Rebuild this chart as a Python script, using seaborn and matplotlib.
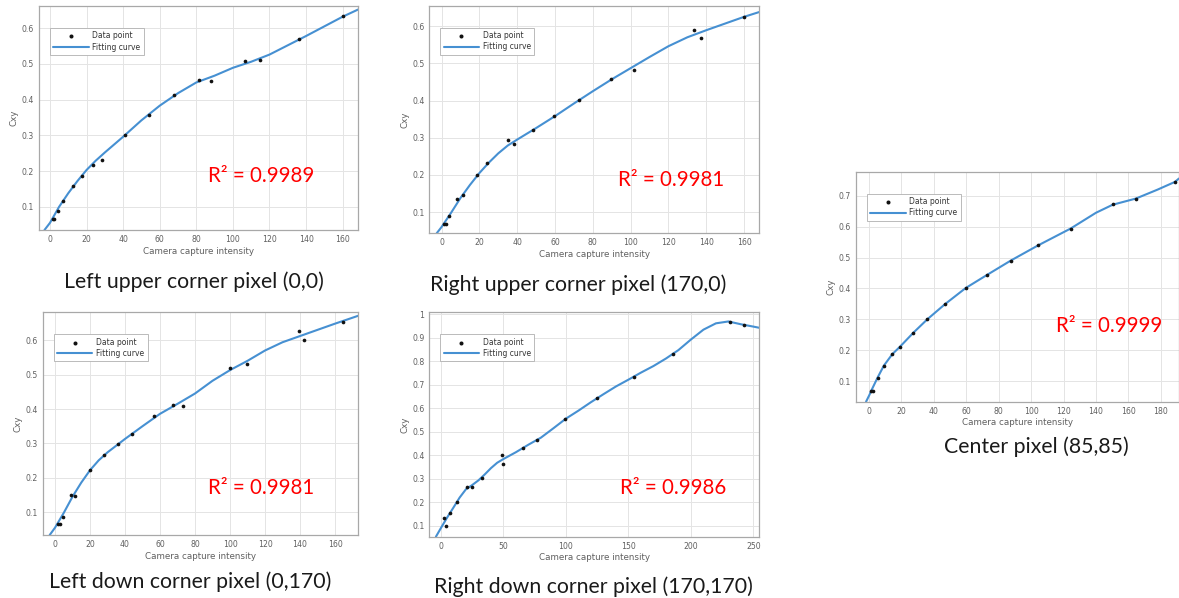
import numpy as np
import pandas as pd
import matplotlib
matplotlib.use("Agg")
import matplotlib.pyplot as plt
from matplotlib.ticker import FuncFormatter
import seaborn as sns

# ---------------- data ----------------
# Panel 1: Left upper corner pixel (0,0)
p1_x = [1.8, 2.4, 4.6, 7.3, 12.8, 17.3, 23.3, 28.2, 41.0, 54.1, 67.8, 81.6, 87.8, 106.8, 114.6, 136.1, 160.0]
p1_y = [0.065, 0.065, 0.088, 0.116, 0.158, 0.187, 0.218, 0.232, 0.302, 0.358, 0.412, 0.454, 0.451, 0.509, 0.511, 0.571, 0.633]
p1_cx = [-3, 0, 5, 10, 15, 20, 25, 30, 40, 50, 60, 70, 80, 90, 100, 110, 120, 130, 140, 150, 160, 168.4]
p1_cy = [0.035, 0.055, 0.100, 0.138, 0.172, 0.203, 0.229, 0.252, 0.296, 0.342, 0.383, 0.418, 0.448, 0.467, 0.489, 0.506, 0.526, 0.552, 0.578, 0.605, 0.632, 0.652]

# Panel 2: Right upper corner pixel (170,0)
p2_x = [1.4, 2.3, 4.1, 8.3, 11.1, 18.5, 24.2, 35.3, 38.5, 48.5, 59.6, 72.7, 89.4, 101.8, 133.5, 137.0, 160.0]
p2_y = [0.067, 0.067, 0.089, 0.134, 0.147, 0.201, 0.231, 0.293, 0.282, 0.320, 0.358, 0.401, 0.457, 0.482, 0.591, 0.567, 0.624]
p2_cx = [-2.6, 0, 5, 10, 15, 20, 25, 30, 35, 40, 50, 60, 70, 80, 90, 100, 110, 120, 130, 140, 150, 160, 168.1]
p2_cy = [0.043, 0.060, 0.098, 0.138, 0.173, 0.205, 0.233, 0.258, 0.279, 0.295, 0.326, 0.358, 0.392, 0.425, 0.457, 0.487, 0.517, 0.546, 0.570, 0.589, 0.607, 0.625, 0.638]

# Panel 3: Left down corner pixel (0,170)
p3_x = [1.9, 2.9, 4.8, 9.0, 11.4, 20.0, 28.0, 36.2, 43.8, 56.6, 67.6, 73.3, 100.0, 109.5, 139.4, 142.3, 164.8]
p3_y = [0.066, 0.066, 0.087, 0.150, 0.147, 0.223, 0.267, 0.299, 0.327, 0.380, 0.412, 0.409, 0.518, 0.530, 0.627, 0.600, 0.654]
p3_cx = [-3, 0, 5, 10, 15, 20, 25, 30, 40, 50, 60, 70, 80, 90, 100, 110, 120, 130, 140, 150, 160, 173.3]
p3_cy = [0.034, 0.055, 0.098, 0.145, 0.186, 0.222, 0.251, 0.274, 0.313, 0.350, 0.386, 0.415, 0.445, 0.482, 0.513, 0.540, 0.570, 0.594, 0.612, 0.630, 0.648, 0.671]

# Panel 4: Right down corner pixel (170,170)
p4_x = [2.4, 3.7, 7.2, 12.5, 20.5, 24.5, 32.5, 48.5, 49.3, 65.3, 77.1, 99.2, 125.1, 154.4, 185.9, 231.2, 242.4]
p4_y = [0.131, 0.098, 0.156, 0.202, 0.263, 0.266, 0.305, 0.401, 0.362, 0.433, 0.467, 0.553, 0.642, 0.734, 0.830, 0.969, 0.955]
p4_cx = [-4, 0, 5, 10, 15, 20, 25, 30, 35, 40, 45, 50, 60, 70, 80, 90, 100, 110, 120, 130, 140, 150,
         160, 170, 180, 190, 200, 210, 220, 230, 240, 250, 254.7]
p4_cy = [0.053, 0.090, 0.135, 0.177, 0.220, 0.255, 0.273, 0.293, 0.318, 0.345, 0.368, 0.384, 0.413, 0.445, 0.475,
         0.515, 0.556, 0.590, 0.626, 0.660, 0.693, 0.722, 0.752, 0.780, 0.812, 0.848, 0.893, 0.935, 0.962,
         0.970, 0.958, 0.948, 0.943]

# Panel 5: Center pixel (85,85)
p5_x = [1.0, 2.3, 5.3, 9.2, 14.4, 19.1, 27.3, 36.0, 46.9, 59.6, 72.6, 87.4, 104.2, 124.4, 150.3, 164.6, 188.7]
p5_y = [0.068, 0.068, 0.111, 0.150, 0.187, 0.211, 0.256, 0.300, 0.349, 0.401, 0.443, 0.490, 0.539, 0.594, 0.672, 0.691, 0.745]
p5_cx = [-1.8, 0, 2, 5.3, 9.2, 14.4, 19.1, 27.3, 36, 46.9, 59.6, 72.6, 87.4, 104.2, 124.4, 140, 150.3, 164.6, 178, 188.7, 191.2]
p5_cy = [0.033, 0.052, 0.075, 0.111, 0.150, 0.187, 0.211, 0.256, 0.300, 0.349, 0.401, 0.443, 0.490, 0.539, 0.594, 0.645, 0.671, 0.691, 0.720, 0.745, 0.756]

captions = ["Left upper corner pixel (0,0)", "Right upper corner pixel (170,0)",
            "Left down corner pixel (0,170)", "Right down corner pixel (170,170)",
            "Center pixel (85,85)"]
r2_labels = ["R\u00b2 = 0.9989", "R\u00b2 = 0.9981", "R\u00b2 = 0.9981", "R\u00b2 = 0.9986", "R\u00b2 = 0.9999"]
x_tick_lists = [list(range(0, 161, 20)), list(range(0, 161, 20)), list(range(0, 161, 20)),
                list(range(0, 251, 50)), list(range(0, 181, 20))]
y_tick_lists = [[0.1, 0.2, 0.3, 0.4, 0.5, 0.6], [0.1, 0.2, 0.3, 0.4, 0.5, 0.6],
                [0.1, 0.2, 0.3, 0.4, 0.5, 0.6],
                [0.1, 0.2, 0.3, 0.4, 0.5, 0.6, 0.7, 0.8, 0.9, 1.0],
                [0.1, 0.2, 0.3, 0.4, 0.5, 0.6, 0.7]]

# ---------------- layout (pixels) ----------------
W, H = 1179, 598
boxes = [(39, 358, 6, 230), (429.3, 759.3, 5.7, 233.3), (42.7, 358.3, 312.3, 535),
         (429.3, 759.3, 312.3, 536.7), (856, 1179, 171.7, 401.7)]
xlims = [(-6, 168.4), (-6.5, 168.1), (-7, 173.3), (-9.3, 254.7), (-8, 191.2)]
ylims = [(0.035, 0.662), (0.043, 0.655), (0.034, 0.681), (0.053, 1.009), (0.033, 0.778)]
cap_pos = [(194, 282), (578, 285), (190, 582), (593, 587), (1036, 447)]
r2_pos = [(261, 176), (671, 180), (261, 488), (673, 488), (1109, 326)]

sns.set_theme(style="whitegrid")
plt.rcParams['font.family'] = ['DejaVu Sans']

fig = plt.figure(figsize=(W / 100, H / 100), dpi=100)
fig.patch.set_facecolor("white")

panels = [(p1_x, p1_y, p1_cx, p1_cy), (p2_x, p2_y, p2_cx, p2_cy), (p3_x, p3_y, p3_cx, p3_cy),
          (p4_x, p4_y, p4_cx, p4_cy), (p5_x, p5_y, p5_cx, p5_cy)]

line_color = "#4690d2"
tick_color = "#606060"
fmt = FuncFormatter(lambda v, p: f"{v:g}")

for i, (dx, dy, cx, cy) in enumerate(panels):
    l, r, t, b = boxes[i]
    ax = fig.add_axes([l / W, 1 - b / H, (r - l) / W, (b - t) / H])
    ax.set_facecolor("white")
    pts = pd.DataFrame({"x": dx, "y": dy})
    crv = pd.DataFrame({"x": cx, "y": cy})
    sns.scatterplot(data=pts, x="x", y="y", ax=ax, color="#111111", s=7, linewidth=0,
                    label="Data point", zorder=3)
    sns.lineplot(data=crv, x="x", y="y", ax=ax, color=line_color, linewidth=1.5,
                 estimator=None, sort=False, label="Fitting curve", zorder=2,
                 solid_joinstyle="round", solid_capstyle="round")
    ax.set_xlim(*xlims[i])
    ax.set_ylim(*ylims[i])
    ax.set_xticks(x_tick_lists[i])
    ax.set_yticks(y_tick_lists[i])
    ax.xaxis.set_major_formatter(fmt)
    ax.yaxis.set_major_formatter(fmt)
    ax.grid(True, color="#e4e4e4", linewidth=0.7)
    for s in ax.spines.values():
        s.set_visible(True)
        s.set_color("#a8a8a8")
        s.set_linewidth(0.9)
    ax.tick_params(axis="both", direction="in", length=2, width=0.6, color="#a8a8a8",
                   labelsize=5.6, labelcolor=tick_color, pad=3.5)
    ax.set_xlabel("Camera capture intensity", fontsize=6.3, color=tick_color, labelpad=2)
    ax.set_ylabel("Cxy", fontsize=6.3, color=tick_color, labelpad=2)
    aw, ah = r - l, b - t
    leg = ax.legend(loc="upper left", bbox_to_anchor=(11 / aw, 1 - 22 / ah), borderaxespad=0,
                    fontsize=5.5, frameon=True, fancybox=False, framealpha=1,
                    edgecolor="#b0b0b0", handlelength=4.6, handletextpad=0.5,
                    borderpad=0.45, labelspacing=0.3, markerscale=1.1)
    leg.get_frame().set_linewidth(0.6)
    for txt in leg.get_texts():
        txt.set_color("#333333")

    fig.text(cap_pos[i][0] / W, 1 - cap_pos[i][1] / H, captions[i], ha="center", va="center",
             fontsize=15.3, family=["Lato", "DejaVu Sans"], color="#1a1a1a")
    fig.text(r2_pos[i][0] / W, 1 - r2_pos[i][1] / H, r2_labels[i], ha="center", va="center",
             fontsize=14.8, family=["Lato", "DejaVu Sans"], color="#ff0000")

fig.savefig("out.png", dpi=100, facecolor="white")
